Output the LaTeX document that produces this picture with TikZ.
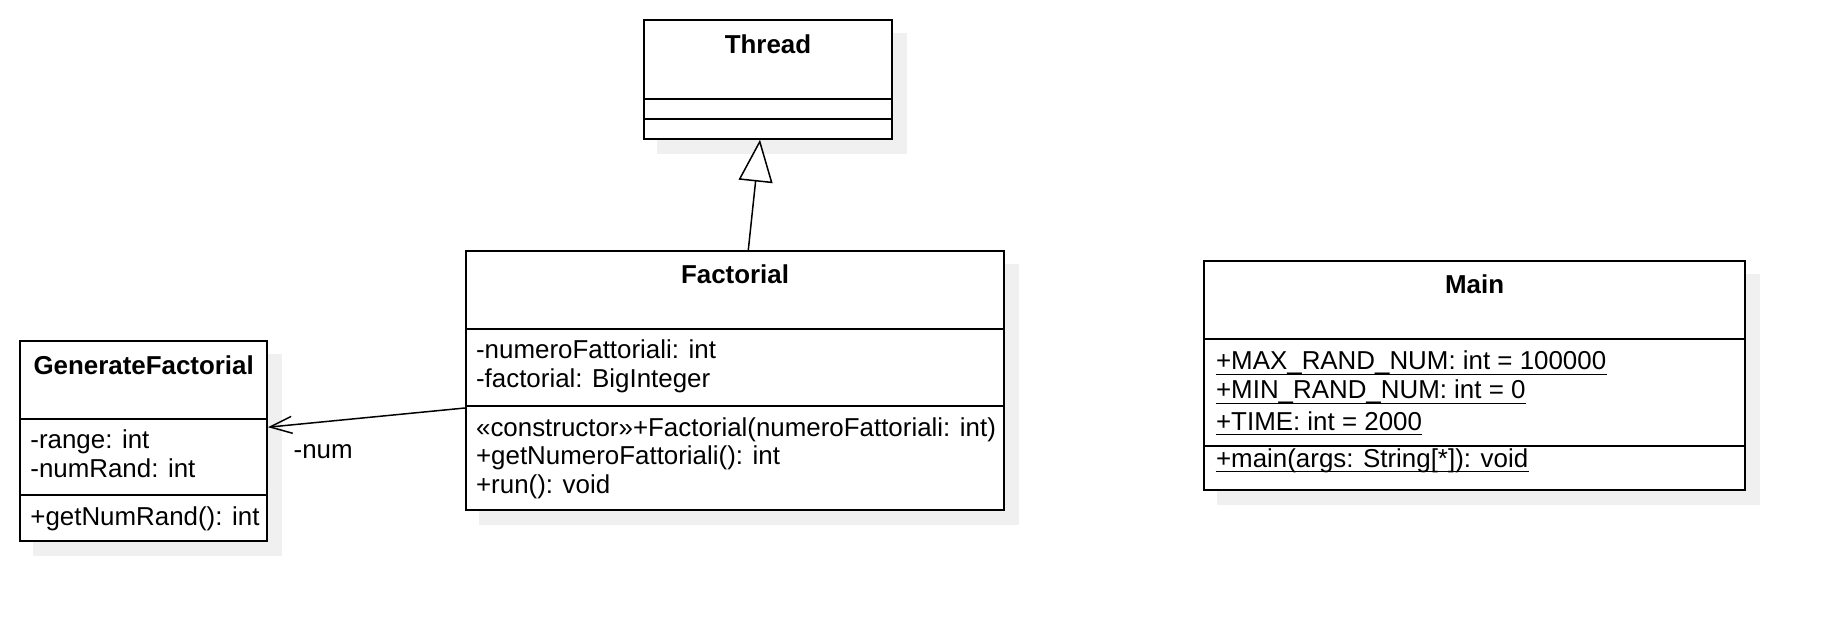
\documentclass[tikz,border=0pt]{standalone}
\usepackage{fontspec}
\setmainfont{Liberation Sans}
\usetikzlibrary{arrows.meta,calc,backgrounds}
\definecolor{shadowgray}{RGB}{240,240,240}
\tikzset{
  cls/.style={draw=black, line width=1pt, fill=white, inner sep=0pt, anchor=north west},
  shadowbox/.style={fill=shadowgray},
  txt/.style={inner sep=0pt, anchor=base west, font=\fontsize{12.95}{15}\selectfont},
  ttl/.style={inner sep=0pt, anchor=base, font=\fontsize{12.95}{15}\selectfont\bfseries},
  sepline/.style={line width=1pt},
  uline/.style={line width=0.9pt},
  assoc/.style={line width=0.75pt, -{Straight Barb[length=11pt,width=8.5pt]}},
  genz/.style={line width=0.75pt, -{Triangle[length=21pt,width=17pt,fill=white]}},
}
\begin{document}
\begin{tikzpicture}[x=0.5pt,y=-0.5pt]
\useasboundingbox (0,0) rectangle (1822,620);

% Thread
\node[cls, minimum width=124pt, minimum height=59.2pt] (thread) at (643,19.3) {};
\draw[sepline] (thread.west |- 0,99.3) -- (thread.east |- 0,99.3);
\draw[sepline] (thread.west |- 0,119.3) -- (thread.east |- 0,119.3);
\node[ttl] (threadT) at (thread.north |- 0,53.3) {Thread};

% Factorial
\node[cls, minimum width=269pt, minimum height=129.65pt] (fact) at (465,250) {};
\draw[sepline] (fact.west |- 0,329.3) -- (fact.east |- 0,329.3);
\draw[sepline] (fact.west |- 0,405.7) -- (fact.east |- 0,405.7);
\node[ttl] (factT) at (fact.north |- 0,283.5) {Factorial};
\node[txt] (fa1) at (475.7,358.3) {-numeroFattoriali: int};
\node[txt] (fa2) at (475.7,387.7) {-factorial: BigInteger};
\node[txt] (fm1) at (475.7,436.7) {«constructor»+Factorial(numeroFattoriali: int)};
\node[txt] (fm2) at (475.7,465) {+getNumeroFattoriali(): int};
\node[txt] (fm3) at (475.7,493.5) {+run(): void};

% GenerateFactorial
\node[cls, minimum width=123.35pt, minimum height=100pt] (gen) at (19.3,340) {};
\draw[sepline] (gen.west |- 0,419.3) -- (gen.east |- 0,419.3);
\draw[sepline] (gen.west |- 0,495.3) -- (gen.east |- 0,495.3);
\node[ttl] (genT) at (gen.north |- 0,374.3) {GenerateFactorial};
\node[txt] (ga1) at (30,449) {-range: int};
\node[txt] (ga2) at (30,477.7) {-numRand: int};
\node[txt] (gm1) at (30,525) {+getNumRand(): int};

% Main
\node[cls, minimum width=270.35pt, minimum height=114.65pt] (main) at (1203.3,260) {};
\draw[sepline] (main.west |- 0,339.3) -- (main.east |- 0,339.3);
\draw[sepline] (main.west |- 0,446.3) -- (main.east |- 0,446.3);
\node[ttl] (mainT) at (main.north |- 0,293.5) {Main};
\node[txt] (ma1) at (1215.7,370) {+MAX\_RAND\_NUM: int = 100000};
\node[txt] (ma2) at (1215.7,399) {+MIN\_RAND\_NUM: int = 0};
\node[txt] (ma3) at (1215.7,430) {+TIME: int = 2000};
\node[txt] (mm1) at (1215.7,467) {+main(args: String[*]): void};
\foreach \u in {ma1,ma2,ma3,mm1}{
  \draw[uline] ($(\u.base west)+(0,4.5)$) -- ($(\u.base east)+(0,4.5)$);
}

% shadows
\begin{pgfonlayer}{background}
\foreach \n in {thread,fact,gen,main}{
  \fill[shadowbox] ($(\n.north west)+(14,14)$) rectangle ($(\n.south east)+(14,14)$);
}
\end{pgfonlayer}

% connectors
\draw[genz] (fact.north -| 748.3,0) -- (thread.south -| 760,0);
\draw[assoc] (fact.west |- 0,408) -- (gen.east |- 0,427.2);
\node[txt] (numlbl) at (293.3,458.3) {-num};
\end{tikzpicture}
\end{document}
